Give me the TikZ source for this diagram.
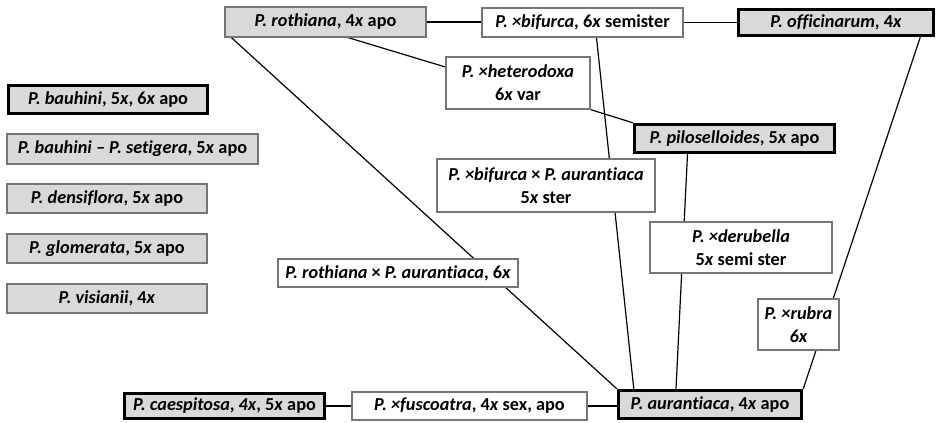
\documentclass[tikz,border=0pt]{standalone}
\usepackage{fontspec}
\setmainfont{Carlito}[Ligatures=NoCommon]
\usetikzlibrary{calc,backgrounds}
\definecolor{boxgray}{HTML}{D9D9D9}
\definecolor{edgegray}{HTML}{767676}
\begin{document}
\begin{tikzpicture}[x=0.75pt,y=-0.75pt,
  base/.style={rectangle, inner sep=0pt, align=center, font=\fontsize{13.7}{17.4}\selectfont\bfseries},
  sz/.style 2 args={minimum width=#1*0.75pt, minimum height=#2*0.75pt},
  greybox/.style={base, fill=boxgray, draw=edgegray, line width=0.9pt},
  keybox/.style={base, fill=boxgray, draw=black, line width=2.6pt},
  hybbox/.style={base, fill=white, draw=edgegray, line width=0.9pt},
  link/.style={draw=black, line width=0.9pt}]
\useasboundingbox (0,0) rectangle (940,422);
% left column
\node[keybox, sz={199}{28}] (bauhini) at (108,99.5) {\textit{P. bauhini}, 5\textit{x}, 6\textit{x} apo};
\node[greybox, sz={251}{30}] (bset) at (132.5,149) {\textit{P. bauhini – P. setigera}, 5\textit{x} apo};
\node[greybox, sz={200}{29}] (dens) at (107,198.5) {\textit{P. densiflora}, 5\textit{x} apo};
\node[greybox, sz={200}{29}] (glom) at (107,248.5) {\textit{P. glomerata}, 5\textit{x} apo};
\node[greybox, sz={200}{29}] (visi) at (107,298.5) {\textit{P. visianii}, 4\textit{x}};
% network
\node[greybox, sz={201}{30}] (roth) at (325.5,22) {\textit{P. rothiana}, 4\textit{x} apo};
\node[hybbox, sz={201}{29}] (bif) at (582.5,22.5) {\textit{P. ×bifurca}, 6\textit{x} semister};
\node[keybox, sz={195}{26}] (offi) at (836,22.5) {\textit{P. officinarum}, 4\textit{x}};
\node[hybbox, sz={144}{52}] (het) at (518,83) {\textit{P. ×heterodoxa}\\6\textit{x} var};
\node[keybox, sz={200}{28}] (pilo) at (734.5,138.5) {\textit{P. piloselloides}, 5\textit{x} apo};
\node[hybbox, sz={218}{53}] (bifaur) at (546,185.5) {\textit{P. ×bifurca} × \textit{P. aurantiaca}\\5\textit{x} ster};
\node[hybbox, sz={182}{51}] (derub) at (741,247.5) {\textit{P. ×derubella}\\5\textit{x} semi ster};
\node[hybbox, sz={240}{28}] (rothaur) at (398,273) {\textit{P. rothiana} × \textit{P. aurantiaca}, 6\textit{x}};
\node[hybbox, sz={81}{51}] (rubra) at (798.5,324.5) {\textit{P. ×rubra}\\\textit{6x}};
\node[keybox, sz={200}{25}] (caes) at (224.5,406) {\textit{P. caespitosa}, \textit{4x}, 5\textit{x} apo};
\node[hybbox, sz={235}{28}] (fusc) at (469.5,406) {\textit{P. ×fuscoatra}, 4\textit{x} sex, apo};
\node[keybox, sz={183}{28}] (aur) at (710,404.5) {\textit{P. aurantiaca}, 4\textit{x} apo};
\begin{scope}[on background layer]
\fill[white] (0,0) rectangle (940,422);
\draw[link] (roth.east) -- (roth.east -| bif.west);
\draw[link] (bif.east) -- (bif.east -| offi.west);
\draw[link] ($(roth.south)+(22.5,0)$) -- ($(het.west)+(0,-16)$);
\draw[link] (het.south east) -- (pilo.north west);
\draw[link] ($(roth.south west)+(7,0)$) -- (aur.north west);
\draw[link] ($(bif.south)+(14,0)$) -- ($(aur.north west)+(17,0)$);
\draw[link] ($(pilo.south)+(-47,0)$) -- ($(aur.north)+(-34,0)$);
\draw[link] ($(offi.south east)+(-15,0)$) -- (aur.north east);
\draw[link] (caes.east) -- (fusc.west);
\draw[link] (fusc.east) -- (fusc.east -| aur.west);
\end{scope}
\end{tikzpicture}
\end{document}
